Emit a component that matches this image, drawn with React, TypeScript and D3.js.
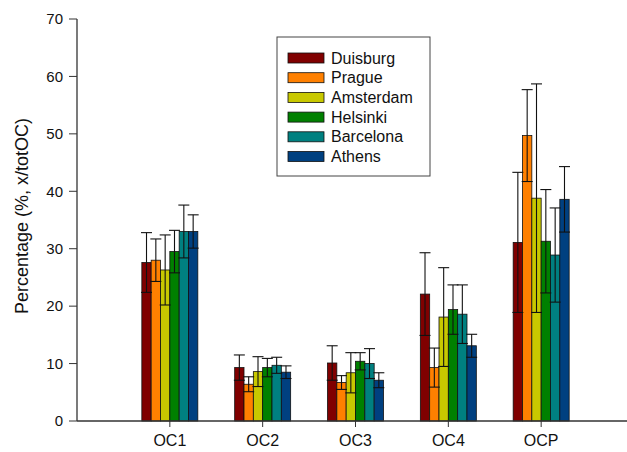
import React from "react";
import * as d3 from "d3";

const categories = ["OC1", "OC2", "OC3", "OC4", "OCP"];
const cities = ["Duisburg", "Prague", "Amsterdam", "Helsinki", "Barcelona", "Athens"];
const colors = ["#800000", "#FF8000", "#C8C800", "#008000", "#008080", "#004080"];

// values[city][category]
const duisburg = [27.6, 9.3, 10.1, 22.1, 31.1];
const prague = [28.0, 6.4, 6.7, 9.3, 49.7];
const amsterdam = [26.3, 8.6, 8.4, 18.1, 38.8];
const helsinki = [29.5, 9.3, 10.4, 19.4, 31.3];
const barcelona = [33.0, 9.7, 10.0, 18.6, 28.9];
const athens = [33.0, 8.5, 7.1, 13.1, 38.6];

const duisburgErr = [5.2, 2.2, 3.0, 7.2, 12.2];
const pragueErr = [3.7, 1.3, 1.2, 3.4, 8.0];
const amsterdamErr = [6.1, 2.6, 3.5, 8.6, 19.9];
const helsinkiErr = [3.7, 1.6, 1.5, 4.3, 9.0];
const barcelonaErr = [4.6, 1.4, 2.6, 5.1, 8.2];
const athensErr = [2.9, 1.1, 1.3, 2.0, 5.7];

const yTicks = [0, 10, 20, 30, 40, 50, 60, 70];

const values = [duisburg, prague, amsterdam, helsinki, barcelona, athens];
const errors = [duisburgErr, pragueErr, amsterdamErr, helsinkiErr, barcelonaErr, athensErr];

export default function App() {
  const W = 627, H = 452;
  const x0 = 77, yBase = 421;
  const x = d3.scaleLinear().domain([0, 6]).range([x0, 634]);
  const y = d3.scaleLinear().domain([0, 70]).range([yBase, 19]);
  const barW = 9.33;
  const cap = 11;
  const font = "Arial, 'Liberation Sans', sans-serif";
  const axisColor = "#333";

  return (
    <svg width={W} height={H} style={{ position: "absolute", left: 0, top: 0, background: "#fff" }} fontFamily={font}>
      {categories.map((c, ci) => {
        const cx = x(ci + 1);
        const start = cx - (barW * cities.length) / 2;
        return (
          <g key={c}>
            {cities.map((city, si) => {
              const v = values[si][ci];
              const bx = start + si * barW;
              return (
                <rect key={city} x={bx} y={y(v)} width={barW} height={yBase - y(v)}
                  fill={colors[si]} stroke="#111" strokeWidth={0.8} />
              );
            })}
            {cities.map((city, si) => {
              const v = values[si][ci];
              const e = errors[si][ci];
              const mx = start + si * barW + barW / 2;
              return (
                <g key={city + "e"} stroke="#111" strokeWidth={1.1}>
                  <line x1={mx} x2={mx} y1={y(v + e)} y2={y(v - e)} />
                  <line x1={mx - cap / 2} x2={mx + cap / 2} y1={y(v + e)} y2={y(v + e)} />
                  <line x1={mx - cap / 2} x2={mx + cap / 2} y1={y(v - e)} y2={y(v - e)} />
                </g>
              );
            })}
          </g>
        );
      })}

      <line x1={x0} x2={x0} y1={y(70)} y2={yBase} stroke={axisColor} strokeWidth={1.3} />
      {yTicks.map((t) => (
        <g key={t}>
          <line x1={x0 - 8} x2={x0} y1={y(t)} y2={y(t)} stroke={axisColor} strokeWidth={1} />
          <text x={x0 - 14} y={y(t)} dy="0.35em" textAnchor="end" fontSize={15} fill="#111">{t}</text>
        </g>
      ))}
      <line x1={x0} x2={W} y1={yBase} y2={yBase} stroke={axisColor} strokeWidth={1.3} />
      {categories.map((c, ci) => (
        <g key={c}>
          <line x1={x(ci + 1)} x2={x(ci + 1)} y1={yBase} y2={yBase + 6} stroke={axisColor} strokeWidth={1} />
          <text x={x(ci + 1)} y={446} textAnchor="middle" fontSize={16} fill="#111">{c}</text>
        </g>
      ))}
      <text transform={`translate(28, 216) rotate(-90)`} textAnchor="middle" fontSize={18} fill="#111">
        Percentage (%, x/totOC)
      </text>

      <rect x={277} y={37} width={153} height={139} fill="#fff" stroke="#444" strokeWidth={1} />
      {cities.map((city, si) => {
        const cy = 58 + si * 19.7;
        return (
          <g key={city}>
            <rect x={288} y={cy - 5} width={36} height={10} fill={colors[si]} stroke="#111" strokeWidth={0.8} />
            <text x={331} y={cy} dy="0.35em" fontSize={16} fill="#111">{city}</text>
          </g>
        );
      })}
    </svg>
  );
}
